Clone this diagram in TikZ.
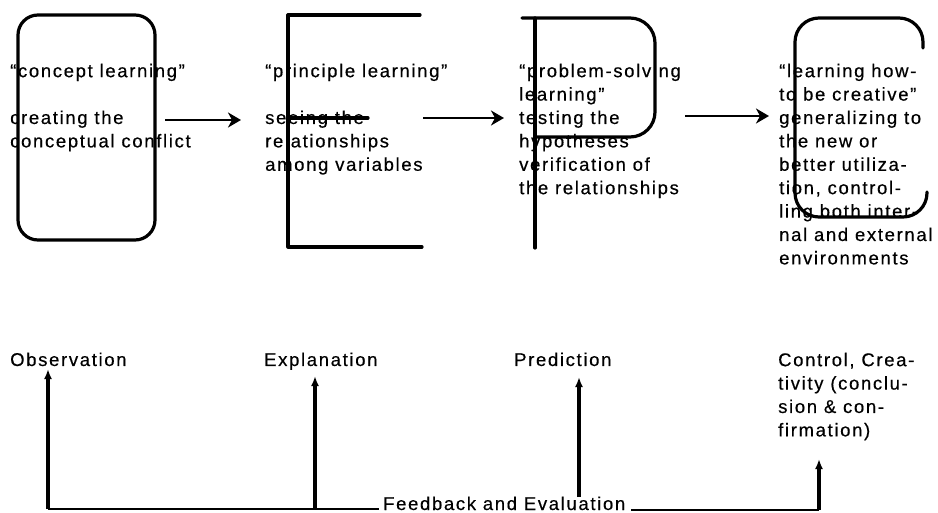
\documentclass[tikz,border=0pt]{standalone}
\usepackage{fontspec}
\setmainfont{Liberation Sans}[LetterSpace=9,FakeBold=0.4]
\usetikzlibrary{arrows.meta}
\begin{document}
\begin{tikzpicture}[x=1pt,y=-1pt,
  txt/.style={anchor=north west,inner sep=0pt,align=left,font=\fontsize{18.5}{23.4}\selectfont},
  lab/.style={anchor=base west,inner sep=0pt,align=left,font=\fontsize{18.5}{23.4}\selectfont},
  frame/.style={line width=3.2pt,line join=round,line cap=round},
  harrow/.style={line width=2.6pt,-{Stealth[length=13pt,width=15pt,inset=4pt]}},
  varrow/.style={line width=3.6pt,-{Latex[length=10pt,width=8pt]}},
  fb/.style={line width=2.4pt}]
\useasboundingbox (0,0) rectangle (938,513);
\fill[white] (0,0) rectangle (938,513);

% shapes
\draw[frame,rounded corners=20] (18,15) rectangle (155,240);
\draw[frame] (420,15) -- (288,15) -- (288,247) -- (422,247);
\draw[frame] (288,118) -- (368,118);
\draw[frame] (535,18) -- (535,248);
\draw[frame,rounded corners=25] (522,18) -- (655,18) -- (655,137) -- (535,137);
\draw[frame,rounded corners=24] (923,48) -- (923,18) -- (795,18) -- (795,217) -- (927,217) -- (927,192);

% texts
\node[txt] (c1) at (10,60.6) {\strut“concept learning”\\[23.4pt]creating the\\conceptual conflict};
\node[txt] (c2) at (265,60.6) {\strut“principle learning”\\[23.4pt]seeing the\\relationships\\among variables};
\node[txt] (c3) at (519,60.6) {\strut“problem-solving\\learning”\\testing the\\hypotheses\\verification of\\the relationships};
\node[txt] (c4) at (779,60.6) {\strut“learning how-\\to be creative”\\generalizing to\\the new or\\better utiliza-\\tion, control-\\ling both inter-\\nal and external\\environments};

\node[lab] (obs) at (10,366) {Observation};
\node[lab] (exp) at (264,366) {Explanation};
\node[lab] (pre) at (514,366) {Prediction};
\node[txt] (ctl) at (778,349.6) {\strut Control, Crea-\\tivity (conclu-\\sion \& con-\\firmation)};
\node[lab] (fbk) at (383,510) {Feedback and Evaluation};

% top arrows
\coordinate (a1s) at (165,120); \coordinate (a1e) at (241,120);
\coordinate (a2s) at (423,118); \coordinate (a2e) at (504,118);
\coordinate (a3s) at (685,116); \coordinate (a3e) at (769,116);
\draw[harrow] (a1s) -- (a1e);
\draw[harrow] (a2s) -- (a2e);
\draw[harrow] (a3s) -- (a3e);

% feedback loop
\coordinate (fbL) at (48,509);
\coordinate (fbX) at (315,509);
\coordinate (fbE) at (379,509);
\coordinate (fbP) at (579,497);
\coordinate (fbS) at (631,510);
\coordinate (fbC) at (819,510);
\coordinate (tObs) at (48,369);
\coordinate (tExp) at (315,376);
\coordinate (tPre) at (579,377);
\coordinate (tCtl) at (819,459);
\draw[fb] (fbL) -- (fbE);
\draw[fb] (fbS) -- (fbC);
\draw[varrow] (fbL) -- (tObs);
\draw[varrow] (fbX) -- (tExp);
\draw[varrow] (fbP) -- (tPre);
\draw[varrow] (fbC) -- (tCtl);
\end{tikzpicture}
\end{document}
